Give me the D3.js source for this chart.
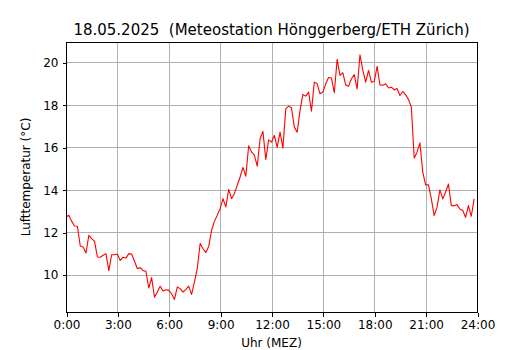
<!DOCTYPE html>
<html>
<head>
<meta charset="utf-8">
<script src="https://cdn.jsdelivr.net/npm/d3@7"></script>
<style>
  html, body { margin: 0; padding: 0; background: #ffffff; }
  svg { display: block; font-family: "DejaVu Sans", sans-serif; }
</style>
</head>
<body>
<svg id="chart" width="530" height="350"></svg>
<script>
// ---- data ----
const chartTitle = "18.05.2025  (Meteostation Hönggerberg/ETH Zürich)";
const xLabel = "Uhr (MEZ)";
const yLabel = "Lufttemperatur (°C)";
const intervalMinutes = 10; // one reading every 10 minutes, starting 0:00
const temperatures = [
  12.72, 12.80, 12.51, 12.29, 12.28, 11.35, 11.30, 11.02, 11.85, 11.70,
  11.57, 10.83, 10.82, 10.91, 10.99, 10.19, 10.94, 10.94, 10.97, 10.67,
  10.82, 10.78, 10.99, 10.97, 10.63, 10.28, 10.33, 10.19, 10.16, 9.37,
  9.86, 8.94, 9.18, 9.45, 9.23, 9.29, 9.26, 9.10, 8.83, 9.42,
  9.34, 9.18, 9.31, 9.46, 9.07, 9.65, 10.30, 11.47, 11.23, 11.04,
  11.33, 12.09, 12.51, 12.80, 13.11, 13.58, 13.19, 14.02, 13.58, 13.82,
  14.21, 14.60, 15.05, 14.64, 16.07, 15.78, 15.63, 15.11, 16.40, 16.75,
  15.42, 16.35, 16.24, 16.56, 16.00, 16.71, 15.96, 17.81, 17.94, 17.86,
  16.95, 16.71, 17.74, 18.49, 18.41, 18.60, 17.70, 19.07, 18.99, 18.52,
  18.60, 18.99, 19.29, 19.26, 18.57, 20.14, 19.39, 19.51, 18.94, 18.88,
  19.23, 19.42, 18.75, 20.36, 19.62, 19.07, 19.62, 19.07, 19.10, 19.81,
  18.94, 18.92, 18.99, 18.79, 18.83, 18.70, 18.77, 18.44, 18.63, 18.47,
  18.25, 17.89, 15.49, 15.77, 16.21, 14.83, 14.23, 14.23, 13.57, 12.78,
  13.18, 13.99, 13.57, 13.88, 14.27, 13.25, 13.25, 13.30, 13.09, 13.02,
  12.70, 13.25, 12.75, 13.57
];
const xTickHours = [0, 3, 6, 9, 12, 15, 18, 21, 24];
const xTickLabels = ["0:00", "3:00", "6:00", "9:00", "12:00", "15:00", "18:00", "21:00", "24:00"];
const yTicks = [10, 12, 14, 16, 18, 20];
const yDomain = [8.24, 20.96];

// ---- layout ----
const L = 66, R = 477, T = 42, B = 312;
const svg = d3.select("#chart");

const x = d3.scaleLinear().domain([0, 24]).range([L, R]);
const y = d3.scaleLinear().domain(yDomain).range([B, T]);

const data = temperatures.map((v, i) => ({ h: i * intervalMinutes / 60, v }));

// grid
const grid = svg.append("g").attr("shape-rendering", "crispEdges");
grid.selectAll("line.vx").data(xTickHours).enter().append("line")
  .attr("x1", d => Math.round(x(d)) + 0.5).attr("x2", d => Math.round(x(d)) + 0.5)
  .attr("y1", T).attr("y2", B)
  .attr("stroke", "#b0b0b0").attr("stroke-width", 1);
grid.selectAll("line.hy").data(yTicks).enter().append("line")
  .attr("y1", d => Math.round(y(d)) + 0.5).attr("y2", d => Math.round(y(d)) + 0.5)
  .attr("x1", L).attr("x2", R)
  .attr("stroke", "#b0b0b0").attr("stroke-width", 1);

// line
const line = d3.line().x(d => x(d.h)).y(d => y(d.v));
svg.append("path").datum(data)
  .attr("d", line)
  .attr("fill", "none")
  .attr("stroke", "#ff0000")
  .attr("stroke-width", 1.1)
  .attr("stroke-linejoin", "round");

// frame
svg.append("rect")
  .attr("x", L + 0.5).attr("y", T + 0.5)
  .attr("width", R - L).attr("height", B - T)
  .attr("fill", "none").attr("stroke", "#000").attr("stroke-width", 1)
  .attr("shape-rendering", "crispEdges");

// axes
const xAxis = d3.axisBottom(x).tickValues(xTickHours)
  .tickFormat((d, i) => xTickLabels[i]).tickSize(4).tickPadding(4);
const gx = svg.append("g").attr("transform", `translate(0.5,${B + 0.5})`).call(xAxis);
gx.select(".domain").remove();
gx.selectAll("text").attr("font-size", "12px").attr("font-family", "DejaVu Sans, sans-serif").attr("fill", "#000");
gx.selectAll("line").attr("stroke", "#000").attr("shape-rendering", "crispEdges");

const yAxis = d3.axisLeft(y).tickValues(yTicks).tickSize(4).tickPadding(4);
const gy = svg.append("g").attr("transform", `translate(${L + 0.5},0.5)`).call(yAxis);
gy.select(".domain").remove();
gy.selectAll("text").attr("font-size", "12px").attr("font-family", "DejaVu Sans, sans-serif").attr("fill", "#000");
gy.selectAll("line").attr("stroke", "#000").attr("shape-rendering", "crispEdges");

// labels
svg.append("text")
  .attr("x", (L + R) / 2).attr("y", 34.5)
  .attr("text-anchor", "middle").attr("font-size", "15px").attr("fill", "#000")
  .style("white-space", "pre")
  .attr("xml:space", "preserve")
  .text(chartTitle);
svg.append("text")
  .attr("x", (L + R) / 2).attr("y", 347)
  .attr("text-anchor", "middle").attr("font-size", "12px").attr("fill", "#000")
  .text(xLabel);
svg.append("text")
  .attr("transform", `translate(30,${(T + B) / 2}) rotate(-90)`)
  .attr("text-anchor", "middle").attr("font-size", "12px").attr("fill", "#000")
  .text(yLabel);
</script>
</body>
</html>
